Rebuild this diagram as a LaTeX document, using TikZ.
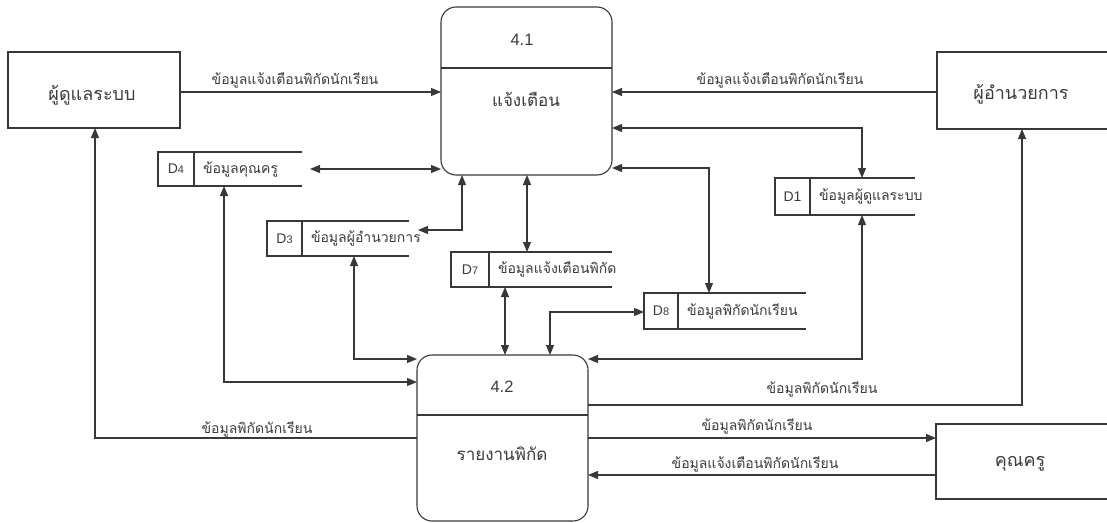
\documentclass[tikz,border=0pt]{standalone}
\usepackage{fontspec}
\setmainfont{Liberation Sans}
\newfontfamily\thaifont[Script=Thai]{Loma}
\usetikzlibrary{arrows.meta,fit}
\definecolor{ln}{HTML}{383838}
\definecolor{tx}{HTML}{3C3C3C}
\tikzset{
  base/.style={inner sep=0pt, outer sep=0pt},
  entbox/.style={base, draw=ln, line width=1.1pt, rectangle},
  enttext/.style={base, text=tx, font=\thaifont\fontsize{18}{21}\selectfont},
  procbox/.style={base, draw=ln, line width=1.1pt, rounded corners=15pt},
  pnum/.style={base, text=tx, font=\fontsize{16.5}{19}\selectfont},
  ptext/.style={base, text=tx, font=\thaifont\fontsize{17}{20}\selectfont},
  lbl/.style={base, text=tx, font=\thaifont\fontsize{14}{16}\selectfont},
  sid/.style={base, text=tx, font=\fontsize{14}{16}\selectfont},
  stext/.style={base, text=tx, anchor=west, font=\thaifont\fontsize{14}{16}\selectfont},
  line/.style={draw=ln, line width=1.1pt},
  flow/.style={line, -{Triangle[length=10pt,width=8pt]}},
  bflow/.style={line, {Triangle[length=10pt,width=8pt]}-{Triangle[length=10pt,width=8pt]}},
}
\newcommand\dstore[8]{%
  \path (#2,#3) coordinate (#1-nw) (#4,#5) coordinate (#1-se);
  \node[base, fit=(#1-nw)(#1-se)] (#1) {};
  \draw[line] (#1.north east) -- (#1.north west) -- (#1.south west) -- (#1.south east);
  \draw[line] (#6,#3) -- (#6,#5);
  \node[sid] (#1-id) at ({(#2+#6)/2},{(#3+#5)/2}) {#7};
  \node[stext] (#1-txt) at ({#6+9},{(#3+#5)/2}) {#8};
}
\newcommand\sdig[1]{{\fontsize{11}{13}\selectfont #1}}
\begin{document}
\begin{tikzpicture}[x=1pt,y=-1pt]
\useasboundingbox (0,0) rectangle (1107,522);
\fill[white] (0,0) rectangle (1107,522);

% helper coordinates
\coordinate (yA) at (0,92);
\coordinate (yB) at (0,128);
\coordinate (yC) at (0,168);
\coordinate (y230) at (0,230);
\coordinate (y312) at (0,312);
\coordinate (y359) at (0,359);
\coordinate (y382) at (0,382);
\coordinate (y405) at (0,405);
\coordinate (y438) at (0,438);
\coordinate (y475) at (0,475);
\coordinate (x95) at (95,0);
\coordinate (x224) at (224,0);
\coordinate (x354) at (354,0);
\coordinate (x462) at (462,0);
\coordinate (x505) at (505,0);
\coordinate (x527) at (527,0);
\coordinate (x550) at (550,0);
\coordinate (x709) at (709,0);
\coordinate (x862) at (862,0);
\coordinate (x1022) at (1022,0);

% external entities
\node[entbox, minimum width=172pt, minimum height=76pt] (admin) at (94,90) {};
\node[enttext] (admin-t) at (92,95) {ผู้ดูแลระบบ};
\node[entbox, minimum width=193pt, minimum height=77pt] (dir) at (1033.5,90.5) {};
\node[enttext] (dir-t) at (1021,94) {ผู้อำนวยการ};
\node[entbox, minimum width=194pt, minimum height=75pt] (tea) at (1033,461.5) {};
\node[enttext] (tea-t) at (1020,464) {คุณครู};

% processes
\node[procbox, minimum width=171pt, minimum height=168pt] (p1) at (526.5,91) {};
\draw[line] ([yshift=-61pt]p1.north west) -- ([yshift=-61pt]p1.north east);
\node[pnum] (p1-n) at (522,40) {4.1};
\node[ptext] (p1-t) at (526,99) {แจ้งเตือน};

\node[procbox, minimum width=171pt, minimum height=166pt] (p2) at (502.5,438) {};
\draw[line] ([yshift=-60pt]p2.north west) -- ([yshift=-60pt]p2.north east);
\node[pnum] (p2-n) at (502,387) {4.2};
\node[ptext] (p2-t) at (502,454) {รายงานพิกัด};

% data stores
\dstore{d4}{158}{152}{302}{186}{194}{D\sdig{4}}{ข้อมูลคุณครู}
\dstore{d3}{267}{221}{409}{256}{302}{D\sdig{3}}{ข้อมูลผู้อำนวยการ}
\dstore{d7}{451}{252}{612}{287}{489}{D\sdig{7}}{ข้อมูลแจ้งเตือนพิกัด}
\dstore{d1}{775}{178}{915}{215}{810}{D1}{ข้อมูลผู้ดูแลระบบ}
\dstore{d8}{644}{293}{806}{329}{678}{D\sdig{8}}{ข้อมูลพิกัดนักเรียน}

% flows around 4.1
\draw[flow] (admin.east |- yA) -- (p1.west |- yA);
\node[lbl] (l1) at (295,80) {ข้อมูลแจ้งเตือนพิกัดนักเรียน};
\draw[flow] (dir.west |- yA) -- (p1.east |- yA);
\node[lbl] (l2) at (780,80) {ข้อมูลแจ้งเตือนพิกัดนักเรียน};
\draw[bflow] (p1.east |- yB) -| (d1.north -| x862);
\draw[bflow] (p1.east |- yC) -| (d8.north -| x709);
\draw[bflow] ([xshift=8pt]d4.east) -- (p1.west |- d4.east);
\draw[bflow] ([xshift=9pt]d3.east |- y230) -| (p1.south -| x462);
\draw[bflow] (p1.south -| x527) -- (d7.north -| x527);

% flows around 4.2
\draw[bflow] (d7.south -| x505) -- (p2.north -| x505);
\draw[bflow] (p2.north -| x550) |- (d8.west |- y312);
\draw[bflow] (d1.south -| x862) |- (p2.east |- y359);
\draw[bflow] (d3.south -| x354) |- (p2.west |- y359);
\draw[bflow] (d4.south -| x224) |- (p2.west |- y382);
\draw[flow] (p2.west |- y438) -| (admin.south -| x95);
\node[lbl] (l13) at (257,429) {ข้อมูลพิกัดนักเรียน};
\draw[flow] (p2.east |- y405) -| (dir.south -| x1022);
\node[lbl] (l14) at (822,389) {ข้อมูลพิกัดนักเรียน};
\draw[flow] (p2.east |- y438) -- (tea.west |- y438);
\node[lbl] (l15) at (757,426) {ข้อมูลพิกัดนักเรียน};
\draw[flow] (tea.west |- y475) -- (p2.east |- y475);
\node[lbl] (l16) at (755,464) {ข้อมูลแจ้งเตือนพิกัดนักเรียน};
\end{tikzpicture}
\end{document}
